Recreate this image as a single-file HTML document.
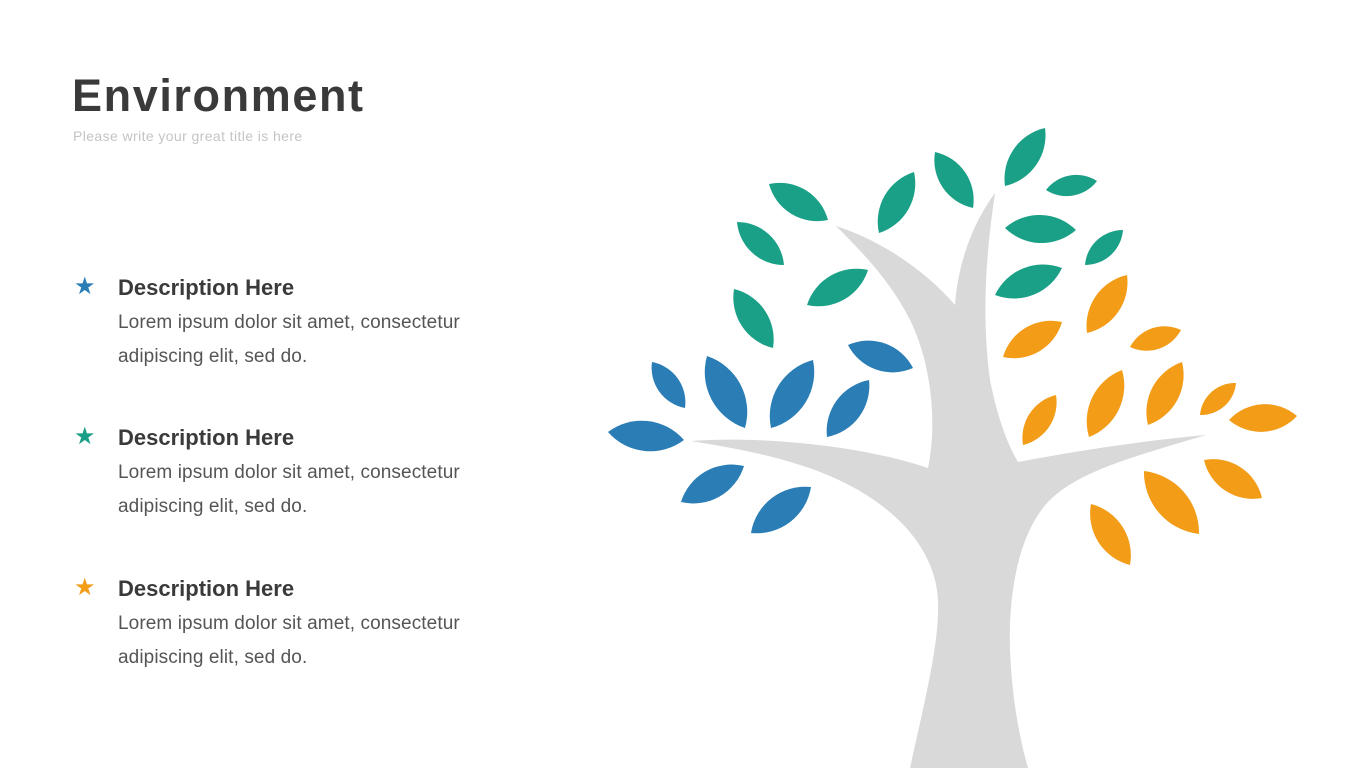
<!DOCTYPE html>
<html><head><meta charset="utf-8"><style>
body{margin:0;width:1365px;height:768px;background:#fff;overflow:hidden;position:relative;font-family:"Liberation Sans",sans-serif}
.t{position:absolute;left:72px;top:70px;font-size:45px;font-weight:bold;color:#3a3a3a;letter-spacing:1.6px}
.s{position:absolute;left:73px;top:128px;font-size:14px;color:#c4c4c4;letter-spacing:0.4px}
.h{position:absolute;left:118px;font-size:22px;font-weight:bold;color:#3a3a3a}
.p{position:absolute;left:118px;font-size:19px;color:#555;line-height:34px;letter-spacing:0.1px}
.st{position:absolute;left:74px;font-size:24px}
svg{position:absolute;left:0;top:0}
</style></head><body>
<div class="t">Environment</div>
<div class="s">Please write your great title is here</div>
<div class="st" style="top:272px;color:#2a7db5">★</div>
<div class="h" style="top:275px">Description Here</div>
<div class="p" style="top:306px">Lorem ipsum dolor sit amet, consectetur<br>adipiscing elit, sed do.</div>
<div class="st" style="top:422px;color:#1a9e86">★</div>
<div class="h" style="top:425px">Description Here</div>
<div class="p" style="top:456px">Lorem ipsum dolor sit amet, consectetur<br>adipiscing elit, sed do.</div>
<div class="st" style="top:573px;color:#f29c17">★</div>
<div class="h" style="top:576px">Description Here</div>
<div class="p" style="top:607px">Lorem ipsum dolor sit amet, consectetur<br>adipiscing elit, sed do.</div>
<svg width="1365" height="768">
<path fill="#d9d9d9" d="M910 768 C925 700 940 640 938 600 C935 540 880 490 800 465 C760 452 720 446 691 441 C760 436 860 445 928 468 C938 420 930 360 910 320 C890 280 860 250 836 226 C880 240 925 270 955 305 C958 260 975 220 995 193 C985 260 982 320 990 380 C998 420 1008 445 1018 462 C1080 450 1150 440 1206 435 C1140 455 1080 470 1050 500 C1020 530 1008 590 1010 650 C1012 700 1020 740 1028 768 Z"/>
<g fill="#1aa087">
<path d="M769 184 A50 50 0 0 1 828 220 A50 50 0 0 1 769 184Z"/>
<path d="M879 233 A52 52 0 0 1 914 172 A52 52 0 0 1 879 233Z"/>
<path d="M935 152 A49 49 0 0 1 973 208 A49 49 0 0 1 935 152Z"/>
<path d="M1005 186 A52 52 0 0 1 1045 128 A52 52 0 0 1 1005 186Z"/>
<path d="M1046 190 A38 38 0 0 1 1097 181 A38 38 0 0 1 1046 190Z"/>
<path d="M1005 228 A52 52 0 0 1 1076 230 A52 52 0 0 1 1005 228Z"/>
<path d="M1085 265 A38 38 0 0 1 1123 230 A38 38 0 0 1 1085 265Z"/>
<path d="M995 295 A53 53 0 0 1 1062 268 A53 53 0 0 1 995 295Z"/>
<path d="M737 222 A47 47 0 0 1 784 265 A47 47 0 0 1 737 222Z"/>
<path d="M807 305 A52 52 0 0 1 868 270 A52 52 0 0 1 807 305Z"/>
<path d="M734 289 A52 52 0 0 1 773 348 A52 52 0 0 1 734 289Z"/>
</g>
<g fill="#2a7db5">
<path d="M848 345 A50 50 0 0 1 913 368 A50 50 0 0 1 848 345Z"/>
<path d="M652 362 A41 41 0 0 1 685 408 A41 41 0 0 1 652 362Z"/>
<path d="M707 356 A59 59 0 0 1 745 428 A59 59 0 0 1 707 356Z"/>
<path d="M771 428 A58 58 0 0 1 813 360 A58 58 0 0 1 771 428Z"/>
<path d="M827 437 A52 52 0 0 1 869 380 A52 52 0 0 1 827 437Z"/>
<path d="M608 432 A56 56 0 0 1 684 440 A56 56 0 0 1 608 432Z"/>
<path d="M681 502 A53 53 0 0 1 744 466 A53 53 0 0 1 681 502Z"/>
<path d="M751 533 A55 55 0 0 1 811 487 A55 55 0 0 1 751 533Z"/>
</g>
<g fill="#f29c17">
<path d="M1003 357 A50 50 0 0 1 1062 322 A50 50 0 0 1 1003 357Z"/>
<path d="M1087 333 A52 52 0 0 1 1127 275 A52 52 0 0 1 1087 333Z"/>
<path d="M1130 347 A39 39 0 0 1 1181 330 A39 39 0 0 1 1130 347Z"/>
<path d="M1023 445 A44 44 0 0 1 1056 395 A44 44 0 0 1 1023 445Z"/>
<path d="M1089 437 A55 55 0 0 1 1122 370 A55 55 0 0 1 1089 437Z"/>
<path d="M1148 425 A53 53 0 0 1 1182 362 A53 53 0 0 1 1148 425Z"/>
<path d="M1200 415 A35 35 0 0 1 1236 383 A35 35 0 0 1 1200 415Z"/>
<path d="M1229 420 A49 49 0 0 1 1297 416 A49 49 0 0 1 1229 420Z"/>
<path d="M1204 460 A50 50 0 0 1 1262 498 A50 50 0 0 1 1204 460Z"/>
<path d="M1144 471 A62 62 0 0 1 1199 534 A62 62 0 0 1 1144 471Z"/>
<path d="M1091 504 A53 53 0 0 1 1130 565 A53 53 0 0 1 1091 504Z"/>
</g>
</svg>
</body></html>
